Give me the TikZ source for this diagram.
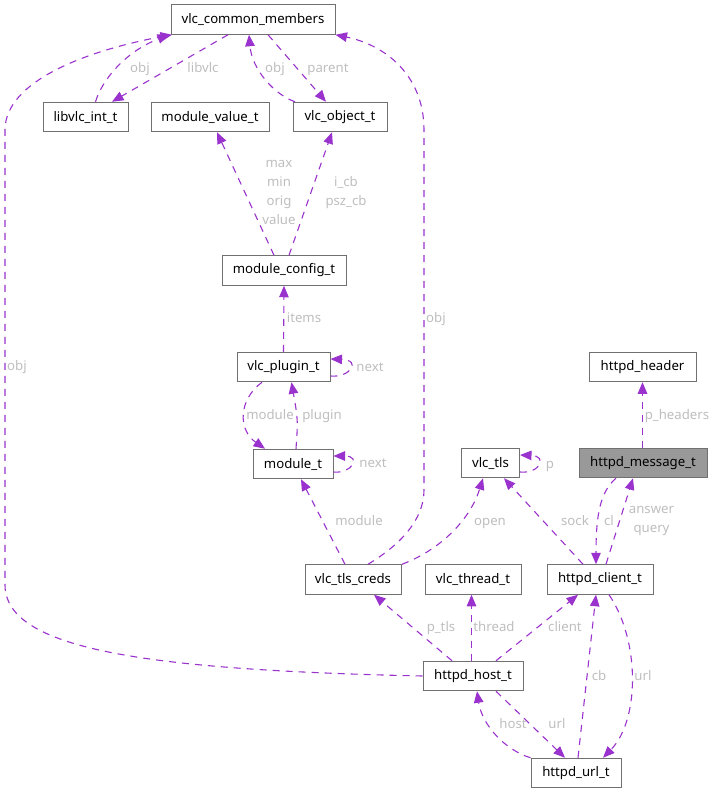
\documentclass[tikz,border=0pt]{standalone}
\usepackage{fontspec}
\setmainfont{Noto Sans}
\usetikzlibrary{arrows.meta}
\definecolor{edgec}{HTML}{9A32CD}
\definecolor{boxc}{HTML}{707070}
\definecolor{labc}{RGB}{190,190,190}
\definecolor{fillg}{HTML}{999999}
\tikzset{
  box/.style={draw=boxc, line width=1pt, fill=white, inner sep=0pt, minimum height=29.5pt, font=\fontsize{13.2}{15}\selectfont},
  rel/.style={draw=edgec, line width=1.1pt, dash pattern=on 7pt off 6pt, -{Triangle[length=11.5pt,width=9.5pt]}},
  lab/.style={text=labc, inner sep=0pt, anchor=base, font=\fontsize{13.2}{19}\selectfont, align=center}
}
\begin{document}
\begin{tikzpicture}[x=1pt,y=-1pt]
\useasboundingbox (0,0) rectangle (716,793);
% nodes
\node[box, minimum width=164pt] (vcm) at (253,19.5) {vlc\_common\_members};
\node[box, minimum width=85pt] (libvlc) at (85.5,117) {libvlc\_int\_t};
\node[box, minimum width=118pt] (mvt) at (210,117) {module\_value\_t};
\node[box, minimum width=94pt] (vot) at (340,117) {vlc\_object\_t};
\node[box, minimum width=124pt] (mct) at (284,270.5) {module\_config\_t};
\node[box, minimum width=93pt] (vpt) at (283.5,367) {vlc\_plugin\_t};
\node[box, minimum width=80pt] (mt) at (293,464) {module\_t};
\node[box, minimum width=58pt] (vtls) at (490.5,463) {vlc\_tls};
\node[box, minimum width=128pt, fill=fillg] (hmsg) at (643,463) {httpd\_message\_t};
\node[box, minimum width=107pt] (hhdr) at (642.5,367) {httpd\_header};
\node[box, minimum width=96pt] (vtc) at (353,579.5) {vlc\_tls\_creds};
\node[box, minimum width=96pt] (vth) at (473,579.5) {vlc\_thread\_t};
\node[box, minimum width=106pt] (hcl) at (600,579.5) {httpd\_client\_t};
\node[box, minimum width=100pt] (hhost) at (473,676) {httpd\_host\_t};
\node[box, minimum width=90pt] (hurl) at (576,773) {httpd\_url\_t};

% edges
\draw[rel] ([xshift=10pt]libvlc.north) .. controls (102,80) and (125,52) .. ([xshift=-84pt]vcm.south);
\draw[rel] ([xshift=-25pt]vcm.south) -- ([xshift=26.5pt]libvlc.north);
\draw[rel] ([xshift=-45pt]vot.north) .. controls (275,95) and (252,70) .. ([xshift=-4pt]vcm.south);
\draw[rel] ([xshift=15pt]vcm.south) -- ([xshift=-14pt]vot.north);
\draw[rel] ([xshift=-10pt]mct.north) -- ([xshift=7pt]mvt.south);
\draw[rel] ([xshift=5pt]mct.north) -- ([xshift=-8pt]vot.south);
\draw[rel] (vpt.north) -- (mct.south);
\draw[rel] ([yshift=-9pt]vpt.east) .. controls (350,378) and (362,360) .. ([yshift=8pt]vpt.east);
\draw[rel] ([xshift=-21.5pt]vpt.south) .. controls (238,400) and (238,430) .. ([xshift=-28pt]mt.north);
\draw[rel] ([xshift=3pt]mt.north) .. controls (298,420) .. ([xshift=8pt]vpt.south);
\draw[rel] ([yshift=-8pt]mt.east) .. controls (352,474) and (362,456) .. ([yshift=8pt]mt.east);
\draw[rel] ([yshift=-9pt]vtls.east) .. controls (540,474) and (548,456) .. ([yshift=8pt]vtls.east);
\draw[rel] ([xshift=-8pt]vtc.north) -- ([xshift=8pt]mt.south);
\draw[rel] ([xshift=15pt]vtc.north) .. controls (400,545) and (424,520) .. (424,490) -- (424,130) .. controls (424,75) and (385,45) .. (vcm.south east);
\draw[rel] ([xshift=49pt]vtc.north) .. controls (440,550) and (470,520) .. ([xshift=-7.5pt]vtls.south);
\draw[rel] ([xshift=-17pt]hcl.north) -- ([xshift=13.5pt]vtls.south);
\draw[rel] ([xshift=-27pt]hmsg.south) .. controls (600,492) and (596,515) .. ([xshift=-4pt]hcl.north);
\draw[rel] ([xshift=6pt]hcl.north) -- ([xshift=-10pt]hmsg.south);
\draw[rel] ([xshift=-0.5pt]hmsg.north) -- (hhdr.south);
\draw[rel] ([xshift=-21pt]hhost.north) -- ([xshift=21pt]vtc.south);
\draw[rel] ([xshift=-1.5pt]hhost.north) -- ([xshift=-1.5pt]vth.south);
\draw[rel] ([xshift=23pt]hhost.north) -- ([xshift=-22pt]hcl.south);
\draw[rel] (hhost.west) .. controls (150,670) and (5,650) .. (5,585) -- (5,130) .. controls (5,80) and (90,50) .. ([xshift=-81pt]vcm.south);
\draw[rel] ([xshift=2pt]hurl.north) -- ([xshift=-4pt]hcl.south);
\draw[rel] ([xshift=9pt]hcl.south) .. controls (640,640) and (640,720) .. ([xshift=27pt]hurl.north);
\draw[rel] ([xshift=23pt]hhost.south) -- ([xshift=-11pt]hurl.north);
\draw[rel] (hurl.north west) .. controls (505,750) and (482,725) .. ([xshift=4pt]hhost.south);

% labels
\node[lab] (l1) at (140,72) {obj};
\node[lab] (l2) at (203,72) {libvlc};
\node[lab] (l3) at (275,72) {obj};
\node[lab] (l4) at (328,72) {parent};
\node[lab, anchor=center] (l5) at (279,192) {max\\min\\orig\\value};
\node[lab, anchor=center] (l6) at (346,193) {i\_cb\\psz\_cb};
\node[lab] (l7) at (304,322) {items};
\node[lab] (l8) at (370,371) {next};
\node[lab] (l9) at (270,419) {module};
\node[lab] (l10) at (322,419) {plugin};
\node[lab] (l11) at (373,467) {next};
\node[lab] (l12) at (550,468) {p};
\node[lab] (l13) at (359,525) {module};
\node[lab] (l14) at (436,322) {obj};
\node[lab] (l15) at (490,525) {open};
\node[lab] (l16) at (575,525) {sock};
\node[lab] (l17) at (609,525) {cl};
\node[lab, anchor=center] (l18) at (651.5,521) {answer\\query};
\node[lab] (l19) at (677,419) {p\_headers};
\node[lab] (l20) at (441,631) {p\_tls};
\node[lab] (l21) at (494,631) {thread};
\node[lab] (l22) at (565,631) {client};
\node[lab] (l23) at (17,370) {obj};
\node[lab] (l24) at (599,680) {cb};
\node[lab] (l25) at (643,680) {url};
\node[lab] (l26) at (513,728) {host};
\node[lab] (l27) at (557,728) {url};
\end{tikzpicture}
\end{document}
